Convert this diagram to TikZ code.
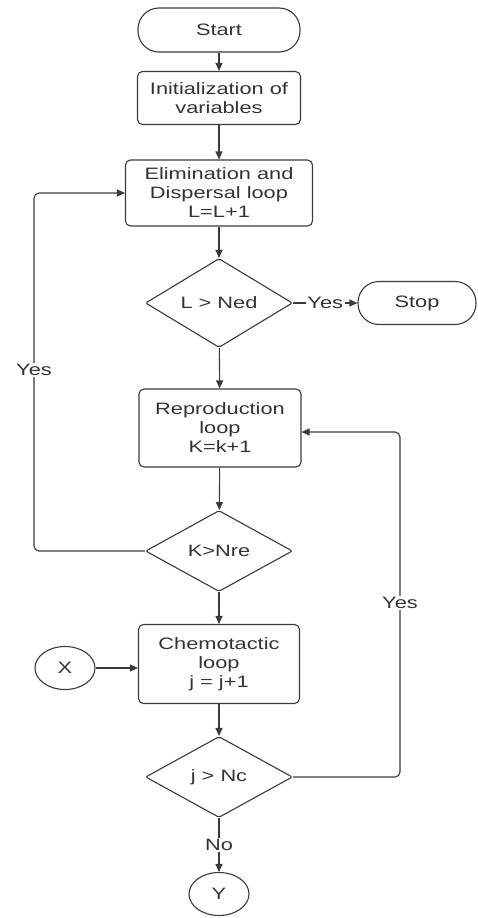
\documentclass[tikz,border=0pt]{standalone}
\usepackage{fontspec}
\setmainfont{Liberation Sans}[FakeStretch=1.32]
\usetikzlibrary{shapes.geometric,arrows.meta}
\definecolor{linec}{HTML}{3A3A3A}
\definecolor{textc}{HTML}{333333}
\begin{document}
\begin{tikzpicture}[x=1pt,y=-1pt,
  base/.style={draw=linec, line width=1.1pt, text=textc,
    font=\fontsize{16.5}{19}\selectfont, align=center, inner sep=0pt},
  procbox/.style={base, rectangle, rounded corners=5pt},
  term/.style={base, rectangle, rounded corners=21pt},
  decision/.style={base, diamond, rounded corners=2pt},
  conn/.style={base, ellipse},
  arr/.style={draw=linec, line width=1.1pt, -{Triangle[length=8pt,width=7pt]}},
  line/.style={draw=linec, line width=1.1pt, rounded corners=5pt},
  lbl/.style={fill=white, text=textc, font=\fontsize{16.5}{19}\selectfont, inner sep=1.5pt}
]
\useasboundingbox (0,0) rectangle (478,918);

\node[term, minimum width=162pt, minimum height=44pt] (start) at (219,30) {Start};
\node[procbox, minimum width=163pt, minimum height=53pt] (init) at (219,98) {Initialization of\\variables};
\node[procbox, minimum width=187pt, minimum height=66pt] (elim) at (219,193) {Elimination and\\Dispersal loop\\L=L+1};
\node[decision, minimum width=147pt, minimum height=81pt] (ned) at (219,303) {L > Ned};
\node[term, minimum width=118pt, minimum height=43pt] (stop) at (417,303) {Stop};
\node[procbox, minimum width=162pt, minimum height=78pt] (repro) at (220,428) {Reproduction\\loop\\K=k+1};
\node[decision, minimum width=147pt, minimum height=81pt] (nre) at (219,551) {K>Nre};
\node[procbox, minimum width=161pt, minimum height=79pt] (chemo) at (219,664) {Chemotactic\\loop\\j = j+1};
\node[conn, minimum width=60pt, minimum height=43pt] (x) at (65,668) {X};
\node[decision, minimum width=147pt, minimum height=81pt] (nc) at (219,777) {j > Nc};
\node[conn, minimum width=60pt, minimum height=43pt] (y) at (219,894) {Y};

\coordinate (lc1) at (34,551);
\coordinate (lc2) at (34,193);
\coordinate (rc1) at (400,777);
\coordinate (rc2) at (400,432);

\draw[arr] (start) -- (init);
\draw[arr] (init) -- (elim);
\draw[arr] (elim) -- (ned);
\draw[arr] (ned) -- node[lbl] {Yes} (stop);
\draw[arr] (ned) -- (repro);
\draw[arr] (repro) -- (nre);
\draw[arr] (nre) -- (chemo);
\draw[arr] (x) -- (chemo.west |- x);
\draw[arr] (chemo) -- (nc);
\draw[arr] (nc) -- node[lbl, pos=0.5] {No} (y);

\draw[line, -{Triangle[length=8pt,width=7pt]}] (nre.west) -- (lc1) -- (lc2) -- (elim.west);
\node[lbl] (yesl) at (34,370) {Yes};

\draw[line, -{Triangle[length=8pt,width=7pt]}] (nc.east) -- (rc1) -- (rc2) -- (repro.east |- rc2);
\node[lbl] (yesr) at (400,603) {Yes};
\end{tikzpicture}
\end{document}
